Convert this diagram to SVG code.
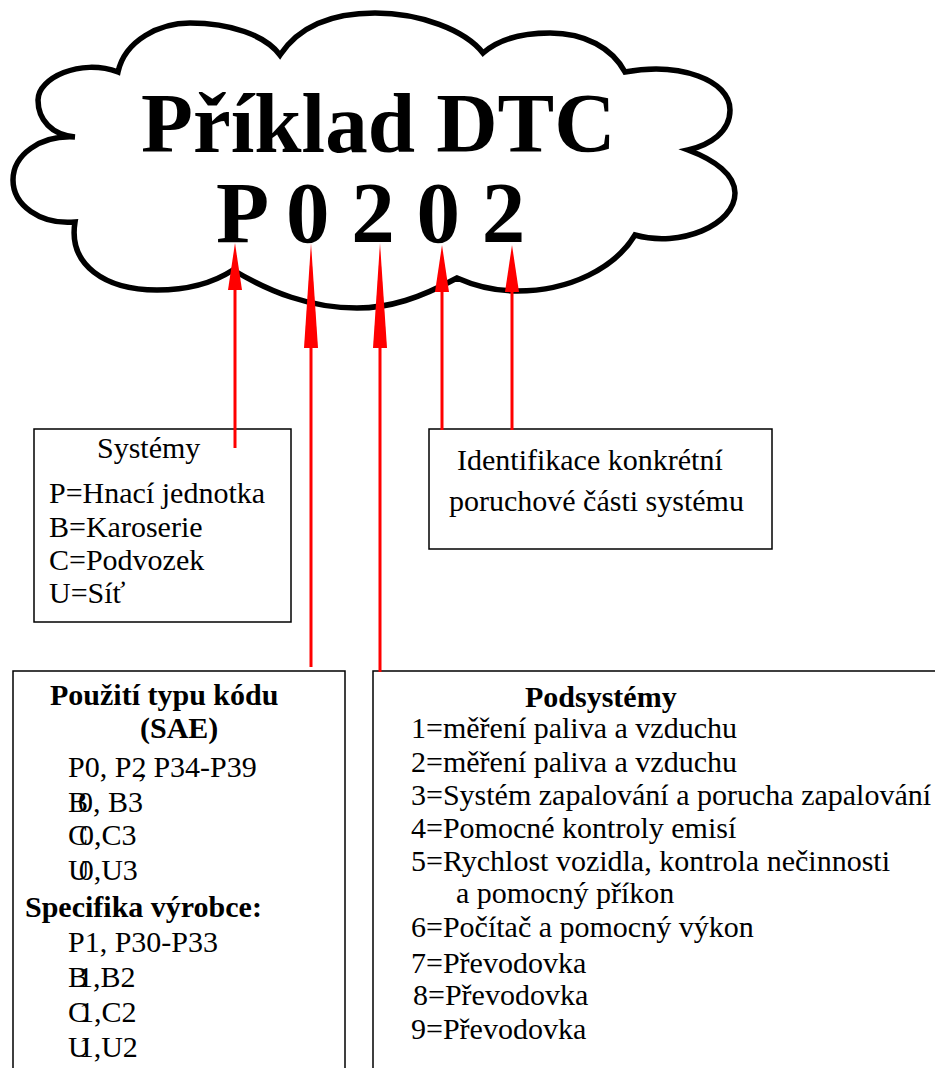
<svg xmlns="http://www.w3.org/2000/svg" width="935" height="1068" viewBox="0 0 935 1068">
<style>
text{font-family:"Liberation Serif","Times New Roman",serif;font-size:30px;fill:#000}
.b{font-weight:bold}
.box{fill:#fff;stroke:#000;stroke-width:1.5}
.cloud{fill:#fff;stroke:#000;stroke-width:5.5}
.con{stroke:#ff0000;stroke-width:3;fill:none}
</style>
<defs>
<marker id="ahS" markerUnits="userSpaceOnUse" viewBox="0 0 47 14" markerWidth="47" markerHeight="14" refX="0" refY="7" orient="auto"><path d="M0,0 L47,7 L0,14 Z" fill="#ff0000"/></marker>
<marker id="ahL" markerUnits="userSpaceOnUse" viewBox="0 0 105 14" markerWidth="105" markerHeight="14" refX="0" refY="7" orient="auto"><path d="M0,0 L105,7 L0,14 Z" fill="#ff0000"/></marker>
</defs>
<rect width="935" height="1068" fill="#fff"/>
<g id="dtc">
<path class="cloud" d="M75,137 C52,135 38,120 38,100 C38,78 80,58 118,72 C125,40 160,23 190,23 C230,23 265,35 280,55 C300,25 335,13 375,13 C420,13 465,30 483,53 C500,38 525,33 550,33 C585,33 612,48 625,72 C680,62 730,80 730,110 C730,132 710,145 688,150 C715,160 735,175 735,193 C735,225 680,248 635,235 C615,268 570,291 517,291 C495,291 475,286 457,278 C420,298 390,308 357,308 C310,308 270,292 233,270 C210,285 185,290 157,290 C105,290 68,265 75,222 C40,225 13,205 13,180 C13,155 40,135 75,137 Z"/>
<text class="b" x="141" y="152" style="font-size:85px">Příklad DTC</text>
<text class="b" x="216" y="242" style="font-size:87px">P 0 2 0 2</text>
</g>
<g id="systemy">
<rect class="box" x="34" y="429" width="257" height="193"/>
<text x="97" y="458">Systémy</text>
<text x="49" y="503">P=Hnací jednotka</text>
<text x="49" y="537">B=Karoserie</text>
<text x="49" y="570">C=Podvozek</text>
<text x="49" y="603">U=Síť</text>
</g>
<g id="identifikace">
<rect class="box" x="429" y="429" width="343" height="120"/>
<text x="457" y="470">Identifikace konkrétní</text>
<text x="449" y="511">poruchové části systému</text>
</g>
<g id="pouziti">
<rect class="box" x="13" y="671" width="332" height="420"/>
<text class="b" x="50" y="705">Použití typu kódu</text>
<text class="b" x="140" y="738">(SAE)</text>
<text x="68" y="777" dx="0 0 0 0 0 0 -8">P0, P2, P34-P39</text>
<text x="68" y="812" dx="0 -10">B0, B3</text>
<text x="68" y="845" dx="0 -9">C0,C3</text>
<text x="68" y="880" dx="0 -11">U0,U3</text>
<text class="b" x="25" y="917">Specifika výrobce:</text>
<text x="68" y="952">P1, P30-P33</text>
<text x="68" y="987" dx="0 -10">B1,B2</text>
<text x="68" y="1022" dx="0 -9">C1,C2</text>
<text x="68" y="1057" dx="0 -11">U1,U2</text>
</g>
<g id="podsystemy">
<rect class="box" x="373" y="671" width="600" height="420"/>
<text class="b" x="525" y="707">Podsystémy</text>
<text x="411" y="738">1=měření paliva a vzduchu</text>
<text x="411" y="772">2=měření paliva a vzduchu</text>
<text x="411" y="805">3=Systém zapalování a porucha zapalování</text>
<text x="411" y="838">4=Pomocné kontroly emisí</text>
<text x="411" y="871">5=Rychlost vozidla, kontrola nečinnosti</text>
<text x="456" y="903">a pomocný příkon</text>
<text x="411" y="937">6=Počítač a pomocný výkon</text>
<text x="411" y="973">7=Převodovka</text>
<text x="413" y="1005">8=Převodovka</text>
<text x="411" y="1039">9=Převodovka</text>
</g>
<g id="connectors">
<line class="con" x1="235" y1="448" x2="235" y2="290" marker-end="url(#ahS)"/>
<line class="con" x1="311" y1="667" x2="311" y2="348" marker-end="url(#ahL)"/>
<line class="con" x1="380" y1="672" x2="380" y2="348" marker-end="url(#ahL)"/>
<line class="con" x1="442" y1="430" x2="442" y2="292" marker-end="url(#ahS)"/>
<line class="con" x1="512" y1="430" x2="512" y2="292" marker-end="url(#ahS)"/>
</g>
</svg>
